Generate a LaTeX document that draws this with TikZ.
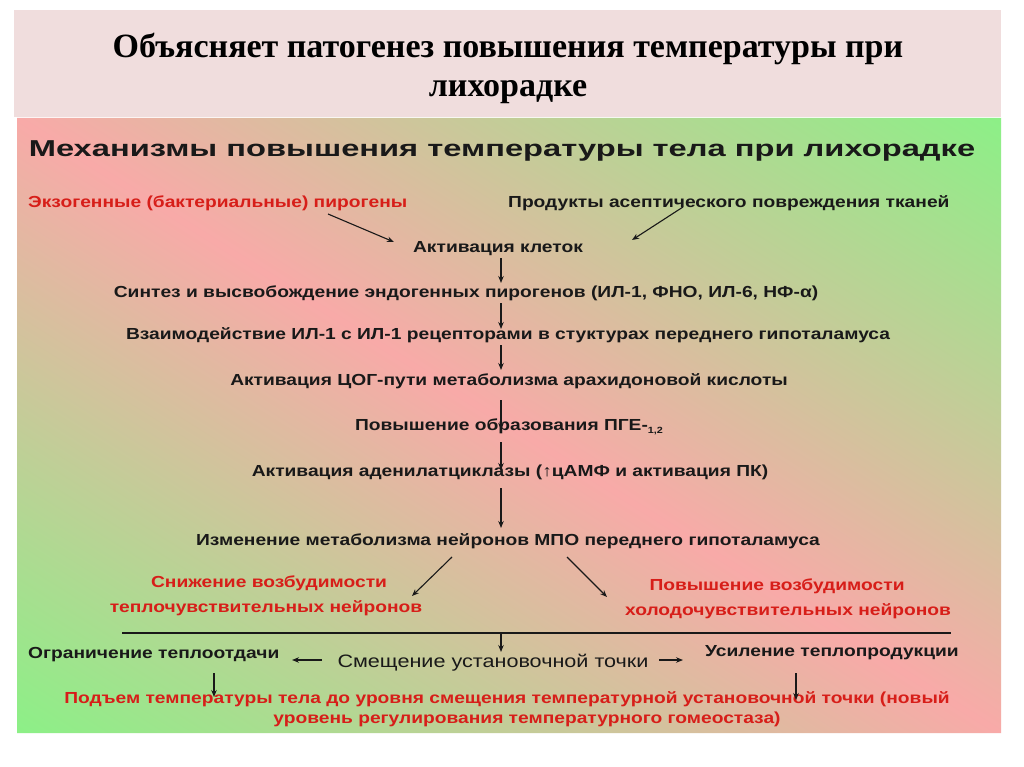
\documentclass[tikz,border=0pt]{standalone}
\usepackage{fontspec}
\setmainfont{Liberation Sans}
\newfontfamily\titlefont{Liberation Serif}
\newfontfamily\headfont[FakeStretch=1.42]{Liberation Sans}
\newfontfamily\bodyfont[FakeStretch=1.2]{Liberation Sans}
\usetikzlibrary{arrows.meta}
\definecolor{pnk}{RGB}{248,170,168}
\definecolor{grn}{RGB}{140,240,135}
\definecolor{titlebg}{RGB}{240,221,221}
\definecolor{redtxt}{RGB}{215,30,25}
\definecolor{ink}{RGB}{25,25,25}
\begin{document}
\begin{tikzpicture}[x=1pt,y=-1pt,
  txt/.style={inner sep=0pt, text=ink, font=\bodyfont\bfseries\fontsize{16}{19}\selectfont},
  redt/.style={txt, text=redtxt},
  arr/.style={draw=ink, line width=1.1pt, -{Stealth[length=7pt,width=5.5pt]}},
  rule/.style={draw=ink, line width=1.1pt},
]
\useasboundingbox (0,0) rectangle (1024,767);
\fill[white] (0,0) rectangle (1024,767);
\fill[titlebg] (14,10) rectangle (1001,117);
\begin{scope}
  \clip (17,118) rectangle (1001,733);
  \begin{scope}[transform canvas={xslant=-1.6}]
    \shade[left color=grn, right color=grn, middle color=pnk] (-1156,118) rectangle (813,733);
  \end{scope}
\end{scope}

% title
\node[inner sep=0pt, anchor=base, font=\titlefont\bfseries\fontsize{34}{40}\selectfont] (t1) at (508,58) {Объясняет патогенез повышения температуры при};
\node[inner sep=0pt, anchor=base, font=\titlefont\bfseries\fontsize{34}{40}\selectfont] (t2) at (508,97) {лихорадке};

% heading
\node[inner sep=0pt, anchor=base, text=ink, font=\headfont\bfseries\fontsize{23}{26}\selectfont] (head) at (502,157) {Механизмы повышения температуры тела при лихорадке};

% flow
\node[redt, anchor=base west] (exo) at (28,208) {Экзогенные (бактериальные) пирогены};
\node[txt, anchor=base west] (prod) at (508,208) {Продукты асептического повреждения тканей};
\node[txt, anchor=base] (act) at (498,252) {Активация клеток};
\node[txt, anchor=base] (sint) at (466,297) {Синтез и высвобождение эндогенных пирогенов (ИЛ-1, ФНО, ИЛ-6, НФ-α)};
\node[txt, anchor=base] (vz) at (508,339) {Взаимодействие ИЛ-1 с ИЛ-1 рецепторами в стуктурах переднего гипоталамуса};
\node[txt, anchor=base] (cog) at (509,385) {Активация ЦОГ-пути метаболизма арахидоновой кислоты};
\node[txt, anchor=base] (pge) at (509,430) {Повышение образования ПГЕ-{\fontsize{9}{9}\selectfont\raisebox{-3pt}{1,2}}};
\node[txt, anchor=base] (adc) at (510,476) {Активация аденилатциклазы (↑цАМФ и активация ПК)};
\node[txt, anchor=base] (izm) at (508,545) {Изменение метаболизма нейронов МПО переднего гипоталамуса};
\node[redt, anchor=base] (sn1) at (269,587) {Снижение возбудимости};
\node[redt, anchor=base] (sn2) at (266,612) {теплочувствительных нейронов};
\node[redt, anchor=base] (pv1) at (777,590) {Повышение возбудимости};
\node[redt, anchor=base] (pv2) at (788,615) {холодочувствительных нейронов};
\node[txt, anchor=base west] (ogr) at (28,658) {Ограничение теплоотдачи};
\node[inner sep=0pt, anchor=base, text=ink, font=\bodyfont\fontsize{18}{21}\selectfont] (sm) at (493,667) {Смещение установочной точки};
\node[txt, anchor=base west] (us) at (705,656) {Усиление теплопродукции};
\node[redt, anchor=base] (pd1) at (507,703) {Подъем температуры тела до уровня смещения температурной установочной точки (новый};
\node[redt, anchor=base] (pd2) at (527,723) {уровень регулирования температурного гомеостаза)};

% connector end points
\coordinate (a1s) at (328,214); \coordinate (a1e) at (394,242);
\coordinate (a2s) at (683,207); \coordinate (a2e) at (632,240);
\coordinate (v1s) at (501,258); \coordinate (v1e) at (501,283);
\coordinate (v2s) at (501,303); \coordinate (v2e) at (501,329);
\coordinate (v3s) at (501,345); \coordinate (v3e) at (501,370);
\coordinate (v4s) at (501,400); \coordinate (v4e) at (501,430);
\coordinate (v5s) at (501,442); \coordinate (v5e) at (501,470);
\coordinate (v6s) at (501,488); \coordinate (v6e) at (501,528);
\coordinate (bls) at (452,557); \coordinate (ble) at (412,596);
\coordinate (brs) at (567,557); \coordinate (bre) at (607,597);
\coordinate (hl) at (122,633); \coordinate (hr) at (951,633);
\coordinate (hm) at (501,633); \coordinate (hme) at (501,652);
\coordinate (las) at (322,660); \coordinate (lae) at (292,660);
\coordinate (ras) at (659,660); \coordinate (rae) at (683,660);
\coordinate (dls) at (214,673); \coordinate (dle) at (214,697);
\coordinate (drs) at (796,673); \coordinate (dre) at (796,700);

\draw[arr] (a1s) -- (a1e);
\draw[arr] (a2s) -- (a2e);
\draw[arr] (v1s) -- (v1e);
\draw[arr] (v2s) -- (v2e);
\draw[arr] (v3s) -- (v3e);
\draw[arr] (v4s) -- (v4e);
\draw[arr] (v5s) -- (v5e);
\draw[arr] (v6s) -- (v6e);
\draw[arr] (bls) -- (ble);
\draw[arr] (brs) -- (bre);
\draw[rule] (hl) -- (hr);
\draw[arr] (hm) -- (hme);
\draw[arr] (las) -- (lae);
\draw[arr] (ras) -- (rae);
\draw[arr] (dls) -- (dle);
\draw[arr] (drs) -- (dre);
\end{tikzpicture}
\end{document}
